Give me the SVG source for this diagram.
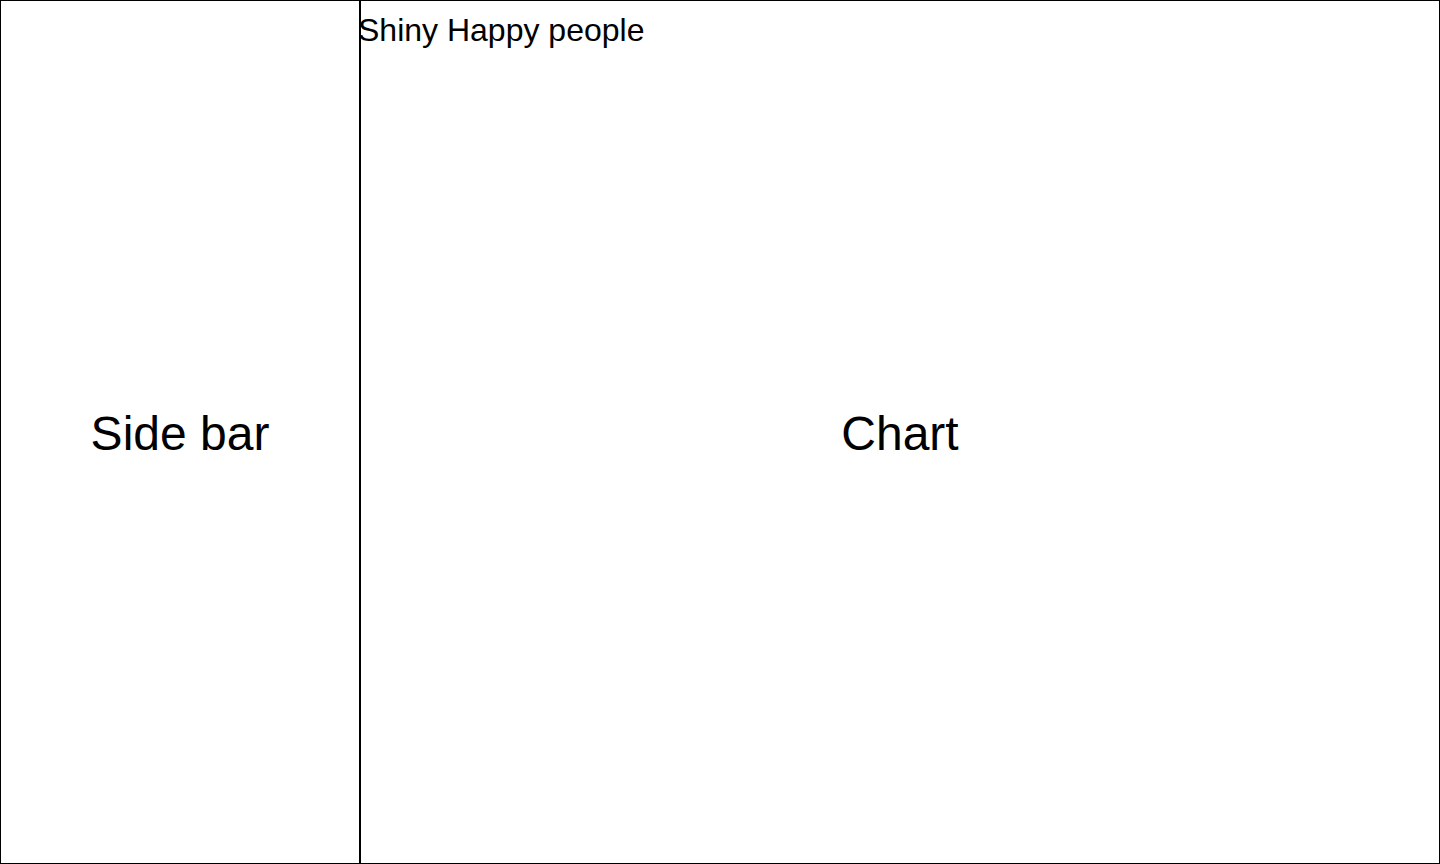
<svg xmlns="http://www.w3.org/2000/svg" width="1440" height="864" viewBox="0 0 1440 864">
<style>
.box{fill:#fff;stroke:#000;stroke-width:2}
.t{font-family:"Liberation Sans",Arial,sans-serif;fill:#000}
</style>
<rect x="0" y="0" width="1440" height="864" fill="#fff"/>
<g id="sidebar">
<rect class="box" x="0" y="0" width="360" height="864"/>
<text class="t" x="180" y="450" font-size="48" text-anchor="middle">Side bar</text>
</g>
<g id="chart">
<rect class="box" x="360" y="0" width="1080" height="864"/>
<text class="t" x="900" y="450" font-size="48" text-anchor="middle">Chart</text>
<text class="t" x="358" y="41" font-size="32">Shiny Happy people</text>
</g>
<g id="connectors"></g>
</svg>
